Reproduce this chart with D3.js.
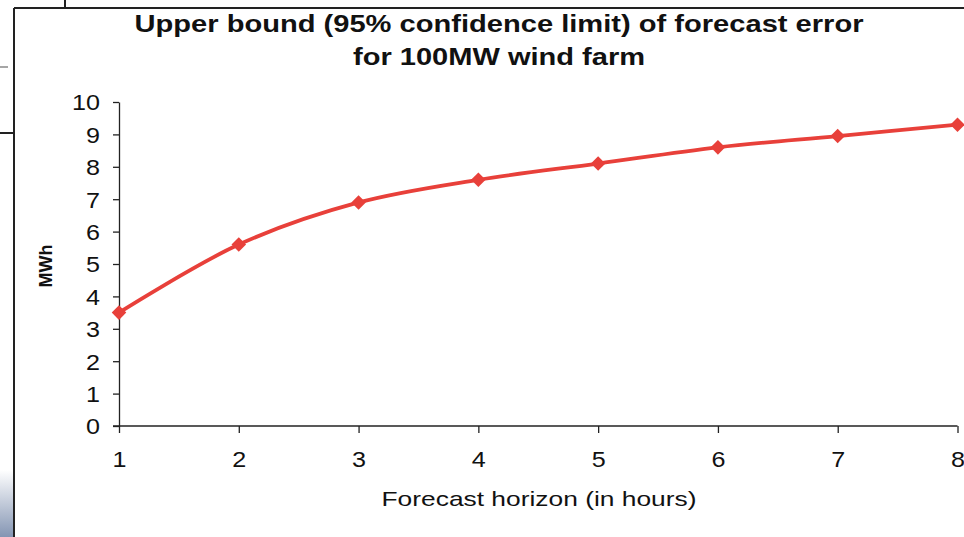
<!DOCTYPE html>
<html>
<head>
<meta charset="utf-8">
<script src="https://cdn.jsdelivr.net/npm/d3@7"></script>
<style>
    body { margin: 0; background: #fff; }
    svg { display: block; font-family: 'Liberation Sans', Arial, sans-serif; }
    .axis path, .axis line { stroke: #222; stroke-width: 1.3; }
    .axis text { font-size: 22px; fill: #111; }
</style>
</head>
<body>
<div id="chart"></div>
<script>
// hours ahead and the upper error bound
const hours = [1, 2, 3, 4, 5, 6, 7, 8];
const upperBound = [3.5, 5.6, 6.9, 7.6, 8.1, 8.6, 8.95, 9.3];
const yTicks = [0, 1, 2, 3, 4, 5, 6, 7, 8, 9, 10];
const titleLines = ['Upper bound (95% confidence limit) of forecast error', 'for 100MW wind farm'];

function drawChart() {
    let svgWidth = 964,
        svgHeight = 537,
        margin = {top: 102, right: 6, bottom: 111, left: 119},
        plotWidth = svgWidth - margin.left - margin.right,
        plotHeight = svgHeight - margin.top - margin.bottom,
        svg = d3.select('#chart').append('svg')
                .attr('width', svgWidth)
                .attr('height', svgHeight),
        plot = svg.append('g')
                  .attr('transform', `translate(${margin.left}, ${margin.top})`);

    // bits of the slide frame around the chart
    let defs = svg.append('defs'),
        grad = defs.append('linearGradient').attr('id', 'edge-grad')
                   .attr('x1', 0).attr('y1', 0).attr('x2', 0).attr('y2', 1);
    grad.append('stop').attr('offset', 0).attr('stop-color', '#fff');
    grad.append('stop').attr('offset', 1).attr('stop-color', '#8495b3');
    svg.append('rect').attr('x', 0).attr('y', 470).attr('width', 14).attr('height', 67)
       .attr('fill', 'url(#edge-grad)');
    svg.append('line').attr('x1', 14).attr('y1', 8).attr('x2', 964).attr('y2', 8)
       .attr('stroke', '#222').attr('stroke-width', 2);
    svg.append('line').attr('x1', 14).attr('y1', 8).attr('x2', 14).attr('y2', 537)
       .attr('stroke', '#222').attr('stroke-width', 2);
    svg.append('line').attr('x1', 65).attr('y1', 0).attr('x2', 65).attr('y2', 8)
       .attr('stroke', '#222').attr('stroke-width', 2);
    svg.append('line').attr('x1', 0).attr('y1', 67).attr('x2', 8).attr('y2', 67)
       .attr('stroke', '#888').attr('stroke-width', 1.5);
    svg.append('line').attr('x1', 0).attr('y1', 133).attr('x2', 14).attr('y2', 133)
       .attr('stroke', '#222').attr('stroke-width', 2);

    // title (the picture is stretched sideways, so the text is too)
    let titleWidths = [729, 292];
    svg.append('g').selectAll('text').data(titleLines).enter().append('text')
       .attr('x', 499).attr('y', (d, i) => 32 + 33 * i)
       .attr('text-anchor', 'middle')
       .attr('font-size', '24px').attr('font-weight', 'bold').attr('fill', '#111')
       .attr('textLength', (d, i) => titleWidths[i])
       .attr('lengthAdjust', 'spacingAndGlyphs')
       .text(d => d);

    // scales
    let xScale = d3.scaleLinear().domain([1, 8]).range([0, plotWidth - 0.5]),
        yScale = d3.scaleLinear().domain([0, 10]).range([plotHeight, 0]);

    // axes
    let xAxisGroup = plot.append('g').attr('class', 'axis')
                         .attr('transform', `translate(0, ${plotHeight})`);
    xAxisGroup.call(d3.axisBottom(xScale).tickValues(hours).tickSize(7)
                      .tickSizeOuter(0).tickPadding(18).tickFormat(d3.format('d')));

    let yAxisGroup = plot.append('g').attr('class', 'axis');
    yAxisGroup.call(d3.axisLeft(yScale).tickValues(yTicks).tickSize(6)
                      .tickSizeOuter(0).tickPadding(13));
    yAxisGroup.selectAll('.tick text').attr('dy', '0.36em');
    xAxisGroup.select('path.domain').attr('d', `M-6,0H${plotWidth - 0.5}`);
    // widen the digits a little, like the stretched original
    svg.selectAll('.tick text')
       .attr('textLength', function () { return this.textContent.length * 14; })
       .attr('lengthAdjust', 'spacingAndGlyphs');

    svg.append('text')
       .attr('x', 539).attr('y', 506)
       .attr('text-anchor', 'middle')
       .attr('font-size', '21px').attr('fill', '#111')
       .attr('textLength', 315).attr('lengthAdjust', 'spacingAndGlyphs')
       .text('Forecast horizon (in hours)');
    svg.append('text')
       .attr('transform', 'translate(52, 266) rotate(-90)')
       .attr('text-anchor', 'middle')
       .attr('font-size', '18px').attr('font-weight', 'bold').attr('fill', '#111')
       .text('MWh');

    // line and diamonds
    let data = hours.map((h, i) => ({h: h, v: upperBound[i]}));
    let line = d3.line()
                 .x(d => xScale(d.h))
                 .y(d => yScale(d.v))
                 .curve(d3.curveCatmullRom.alpha(0.5));
    plot.append('path')
        .datum(data)
        .attr('d', line)
        .attr('fill', 'none')
        .attr('stroke', '#e8403a')
        .attr('stroke-width', 3.8);
    plot.append('g').selectAll('path')
        .data(data).enter().append('path')
        .attr('d', d3.symbol(d3.symbolDiamond2, 135))
        .attr('transform', d => `translate(${xScale(d.h)}, ${yScale(d.v)})`)
        .attr('fill', '#e8403a');
}

drawChart();
</script>
</body>
</html>
